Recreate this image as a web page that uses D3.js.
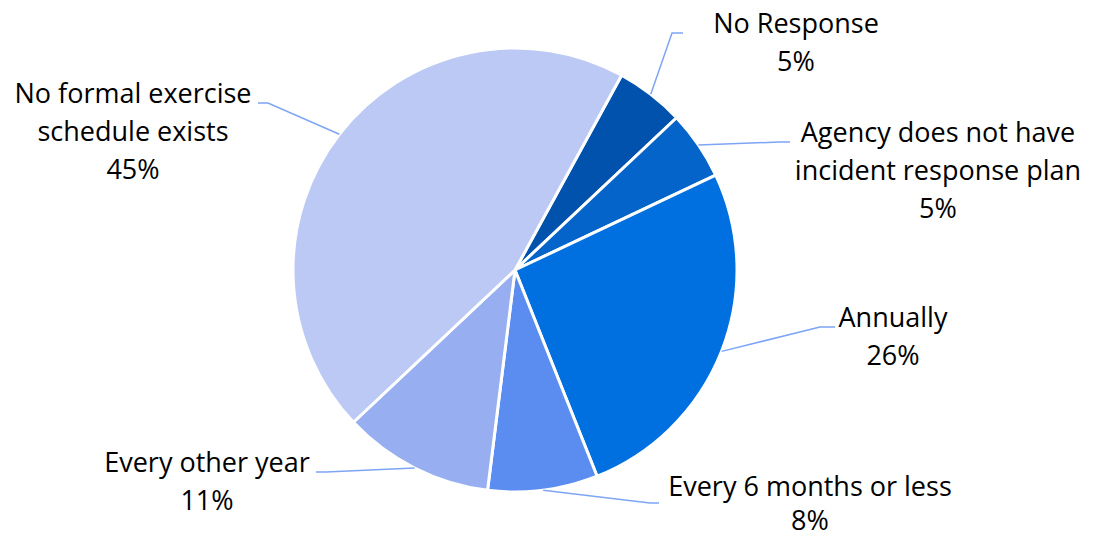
<!DOCTYPE html>
<html>
<head>
<meta charset="utf-8">
<script src="https://cdn.jsdelivr.net/npm/d3@7"></script>
<style>
  html, body { margin: 0; padding: 0; background: #fff; }
  svg { display: block; }
  text { font-family: "Open Sans", "Noto Sans", sans-serif; fill: #000; }
</style>
</head>
<body>
<svg id="chart" width="1095" height="539"></svg>
<script>
// Survey responses: how often incident response exercises are held
const categories = [
  "No Response",
  "Agency does not have incident response plan",
  "Annually",
  "Every 6 months or less",
  "Every other year",
  "No formal exercise schedule exists"
];
const values = [5, 5, 26, 8, 11, 45];
const labelLines = [
  ["No Response"],
  ["Agency does not have", "incident response plan"],
  ["Annually"],
  ["Every 6 months or less"],
  ["Every other year"],
  ["No formal exercise", "schedule exists"]
];
const sliceColors = ["#0052AD", "#0564CA", "#006FE0", "#5B8CEF", "#97AFF0", "#BCC9F4"];

// Label placement: text centre + first baseline, and leader-line elbow/end
const labelLayout = [
  { x: 796, y: 33,  elbow: [672, 33],  end: [683, 33], gap: 38 },
  { x: 938, y: 142, elbow: [780, 142], end: [790, 142], gap: 38 },
  { x: 893, y: 327, elbow: [820, 327], end: [835, 327], gap: 38 },
  { x: 810, y: 496, elbow: [650, 503], end: [659, 503], gap: 34 },
  { x: 207, y: 472, elbow: [326, 472], end: [316, 472], gap: 38 },
  { x: 133, y: 103, elbow: [268, 103], end: [258, 103], gap: 38 }
];

const cx = 515, cy = 270, radius = 222;
const startOffset = 28.7 * Math.PI / 180;

const svg = d3.select("#chart");
const g = svg.append("g").attr("transform", `translate(${cx},${cy})`);

const total = d3.sum(values);
const pie = d3.pie()
  .value(d => d)
  .sort(null)
  .startAngle(startOffset)
  .endAngle(startOffset + 2 * Math.PI);

const arcs = pie(values);
const arc = d3.arc().innerRadius(0).outerRadius(radius);

g.selectAll("path.slice")
  .data(arcs)
  .join("path")
  .attr("class", "slice")
  .attr("d", arc)
  .attr("fill", (d, i) => sliceColors[i])
  .attr("stroke", "#fff")
  .attr("stroke-width", 3)
  .attr("stroke-linejoin", "round");

// Leader lines from the slice edge at its mid angle
const edgePoint = d => {
  const a = (d.startAngle + d.endAngle) / 2;
  return [cx + radius * Math.sin(a), cy - radius * Math.cos(a)];
};

svg.selectAll("polyline.leader")
  .data(arcs)
  .join("polyline")
  .attr("class", "leader")
  .attr("points", (d, i) => [edgePoint(d), labelLayout[i].elbow, labelLayout[i].end].map(p => p.join(",")).join(" "))
  .attr("fill", "none")
  .attr("stroke", "#7EA5F5")
  .attr("stroke-width", 1.5);

// Category name plus percentage
const fmt = v => Math.round(v / total * 100) + "%";
const labels = svg.selectAll("text.label")
  .data(arcs)
  .join("text")
  .attr("class", "label")
  .attr("text-anchor", "middle")
  .attr("font-size", 27);

labels.each(function(d, i) {
  const t = d3.select(this);
  const lines = labelLines[i].concat([fmt(d.data)]);
  lines.forEach((s, k) => {
    t.append("tspan")
      .attr("x", labelLayout[i].x)
      .attr("y", labelLayout[i].y + k * labelLayout[i].gap)
      .text(s);
  });
});
</script>
</body>
</html>
